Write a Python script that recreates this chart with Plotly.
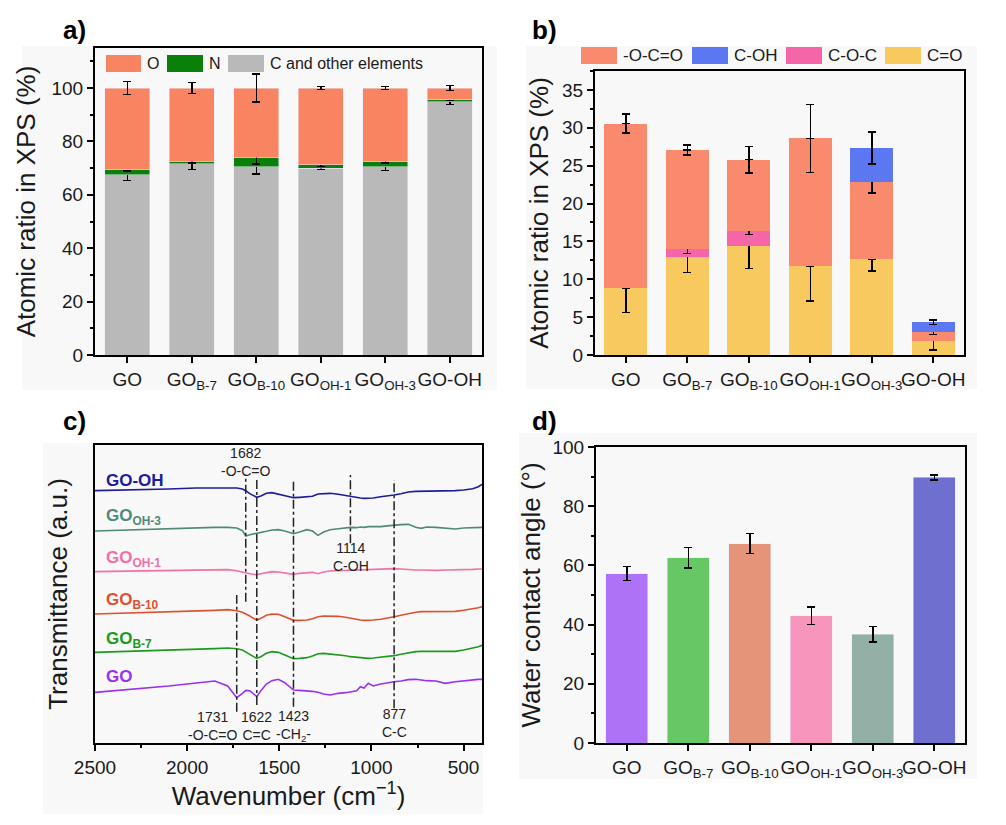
import plotly.graph_objects as go

W, H = 1006, 825
FONT = "Liberation Sans, Arial, sans-serif"

# ---------------- data ----------------
samples = ["GO", "GO<sub>B-7</sub>", "GO<sub>B-10</sub>", "GO<sub>OH-1</sub>", "GO<sub>OH-3</sub>", "GO-OH"]

# panel a: XPS elemental ratio (%)
a_C = [67.5, 71.6, 70.5, 70.0, 70.6, 94.9]
a_N = [1.9, 1.0, 3.6, 1.2, 1.9, 0.7]
a_O = [30.6, 27.4, 25.9, 28.8, 27.5, 4.4]
a_C_err = [2.2, 2.2, 2.65, 0.6, 1.5, 1.0]
a_N_err = [0.5, 0.6, 2.6, 0.5, 0.5, 0.3]
a_O_err = [2.5, 2.0, 5.3, 0.6, 0.6, 1.0]

# panel b: oxygen functional groups (%)
b_CO = [8.85, 12.9, 14.45, 11.7, 12.65, 1.9]
b_COC = [0, 1.05, 1.95, 0, 0, 0]
b_OCO = [21.7, 13.1, 9.4, 16.9, 10.2, 1.1]
b_COH = [0, 0, 0, 0, 4.5, 1.3]
b_CO_err = [3.25, 2.0, 3.05, 4.6, 1.55, 1.25]
b_COC_err = [None, 0.55, 0.5, None, None, None]
b_OCO_err = [1.25, 0.65, 1.75, 4.5, 1.45, 0.3]
b_COH_err = [None, None, None, None, 2.1, 0.3]

# panel d: water contact angle (deg)
d_wca = [57.2, 62.6, 67.4, 43.0, 36.7, 89.7]
d_err = [2.35, 3.4, 3.3, 2.9, 2.6, 0.8]
d_colors = ["#ad72f5", "#66c865", "#e59379", "#f795bd", "#92b0a5", "#6f6fd0"]

# panel c: FTIR spectra (offset, a.u.)
wn = [2500, 2300, 2100, 1950, 1850, 1780, 1731, 1700, 1682, 1660, 1640, 1622, 1600, 1570,
      1540, 1505, 1470, 1440, 1423, 1390, 1350, 1320, 1290, 1260, 1224, 1180, 1140, 1114,
      1080, 1060, 1040, 1017, 990, 950, 900, 877, 840, 800, 760, 730, 700, 650, 600, 545,
      500, 450, 420, 400]
t_GO_OH = [757, 759, 762, 765, 766, 766, 765, 762, 757, 748, 741, 737, 741, 749, 751, 747,
           742, 738, 736, 737, 738, 740, 747, 748, 749, 746, 742, 739, 736, 735, 734, 734,
           735, 739, 742, 744, 748, 753, 755, 755, 756, 757, 757, 757, 759, 763, 769, 776]
t_GO_OH3 = [636, 640, 644, 646, 647, 647, 645, 637, 621, 625, 627, 628, 631, 635, 639, 640,
            636, 632, 628, 633, 640, 636, 623, 633, 640, 643, 645, 647, 646, 648, 647, 649,
            649, 649, 652, 654, 655, 656, 647, 644, 648, 647, 645, 642, 645, 646, 647, 647]
t_GO_OH1 = [514, 516, 518, 519, 520, 520, 517, 513, 509, 508, 506, 505, 508, 512, 514, 513,
            510, 507, 506, 509, 512, 512, 508, 513, 516, 517, 517, 518, 518, 519, 519, 519,
            520, 521, 522, 523, 522, 520, 519, 519, 518, 518, 519, 519, 520, 521, 522, 522]
t_GO_B10 = [387, 390, 393, 395, 398, 400, 397, 392, 388, 381, 374, 369, 374, 383, 387, 386,
            379, 371, 368, 368, 369, 373, 379, 381, 381, 380, 377, 374, 372, 369, 368, 368,
            369, 371, 375, 379, 383, 388, 392, 394, 394, 395, 394, 395, 398, 402, 406, 409]
t_GO_B7 = [272, 275, 278, 280, 283, 285, 283, 279, 274, 266, 259, 254, 259, 269, 274, 272,
           264, 256, 253, 254, 256, 261, 268, 269, 267, 265, 262, 259, 257, 255, 254, 254,
           255, 257, 260, 262, 266, 271, 274, 275, 275, 275, 274, 275, 279, 284, 289, 293]
t_GO = [152, 161, 171, 180, 186, 171, 136, 149, 158, 157, 147, 139, 157, 177, 187, 191,
        181, 167, 159, 158, 157, 155, 152, 147, 144, 149, 151, 154, 157, 169, 165, 179,
        171, 177, 183, 184, 186, 190, 191, 189, 187, 186, 179, 184, 187, 189, 191, 191]

spectra = [
    ("GO-OH", t_GO_OH, "#1c1c9c", 789),
    ("GO<sub>OH-3</sub>", t_GO_OH3, "#4f8a78", 677),
    ("GO<sub>OH-1</sub>", t_GO_OH1, "#f46fa6", 553),
    ("GO<sub>B-10</sub>", t_GO_B10, "#e0502e", 427),
    ("GO<sub>B-7</sub>", t_GO_B7, "#1d9a1d", 309),
    ("GO", t_GO, "#9a30f0", 199),
]

peak_wn = [1731, 1682, 1622, 1423, 1114, 877]
peak_top = [444, 799, 794, 791, 804, 789]
peak_bot = [94, 424, 114, 109, 599, 104]
peak_labels = [
    (1860, 52, "1731<br>-O-C=O"),
    (1680, 844, "1682<br>-O-C=O"),
    (1626, 52, "1622<br>C=C"),
    (1423, 52, "1423<br>-CH<sub>2</sub>-"),
    (1110, 559, "1114<br>C-OH"),
    (876, 61, "877<br>C-C"),
]

# ---------------- figure ----------------
fig = go.Figure()
eb = lambda arr: dict(type="data", array=arr, color="black", thickness=1.5, width=4)

fig.add_trace(go.Bar(x=samples, y=a_C, marker_color="#b9b9b9", width=0.7, error_y=eb(a_C_err),
                     xaxis="x", yaxis="y", name="C and other elements", showlegend=False))
fig.add_trace(go.Bar(x=samples, y=a_N, marker_color="#0a800a", width=0.7, error_y=eb(a_N_err),
                     xaxis="x", yaxis="y", name="N", showlegend=False))
fig.add_trace(go.Bar(x=samples, y=a_O, marker_color="#f98462", width=0.7, error_y=eb(a_O_err),
                     xaxis="x", yaxis="y", name="O", showlegend=False))

for vals, errs, col, nm in [(b_CO, b_CO_err, "#f8c95e", "C=O"), (b_COC, b_COC_err, "#f566a8", "C-O-C"),
                            (b_OCO, b_OCO_err, "#f98a6d", "-O-C=O"), (b_COH, b_COH_err, "#5b78f2", "C-OH")]:
    fig.add_trace(go.Bar(x=samples, y=vals, marker_color=col, marker_line_width=0, width=0.7,
                         error_y=eb(errs), xaxis="x2", yaxis="y2", name=nm, showlegend=False))

for name, vals, col, ly in spectra:
    fig.add_trace(go.Scatter(x=wn, y=vals, mode="lines", line=dict(color=col, width=1.6),
                             xaxis="x3", yaxis="y3", name=name, showlegend=False))

fig.add_trace(go.Bar(x=samples, y=d_wca, marker_color=d_colors, width=0.68, error_y=eb(d_err),
                     xaxis="x4", yaxis="y4", name="WCA", showlegend=False))

ax = dict(showline=True, linecolor="black", linewidth=2, mirror=True, ticks="outside",
          ticklen=6, tickwidth=1.5, tickcolor="black", showgrid=False, zeroline=False,
          automargin=False, tickfont=dict(size=19, color="#1a1a1a", family=FONT))
xcat = dict(ax, tickangle=0)
minor = lambda d: dict(ticks="outside", ticklen=3, tickwidth=1.5, tickcolor="black", dtick=d, showgrid=False)
ytitle = lambda t, s: dict(text=t, font=dict(size=26, color="#1a1a1a", family=FONT), standoff=s)

layout = dict(
    width=W, height=H, margin=dict(l=0, r=0, t=0, b=0),
    paper_bgcolor="white", plot_bgcolor="rgba(0,0,0,0)", barmode="stack", bargap=0.3,
    font=dict(family=FONT, color="#1a1a1a"), showlegend=False,
    xaxis=dict(xcat, domain=[95 / W, 482 / W], anchor="y"),
    yaxis=dict(ax, domain=[1 - 355 / H, 1 - 48 / H], anchor="x", range=[0, 115], dtick=20,
               minor=minor(10), title=ytitle("Atomic ratio in XPS (%)", 8)),
    xaxis2=dict(xcat, domain=[595 / W, 964 / W], anchor="y2"),
    yaxis2=dict(ax, domain=[1 - 355 / H, 1 - 71 / H], anchor="x2", range=[0, 37.5], dtick=5,
                minor=minor(2.5), title=ytitle("Atomic ratio in XPS (%)", 6)),
    xaxis3=dict(ax, tickangle=0, domain=[95 / W, 482 / W], anchor="y3", range=[2500, 400], dtick=500,
                minor=minor(250), title=dict(text="Wavenumber (cm<sup>−1</sup>)",
                                             font=dict(size=26, color="#1a1a1a", family=FONT), standoff=8)),
    yaxis3=dict(ax, domain=[1 - 743 / H, 1 - 445 / H], anchor="x3", range=[0, 894],
                ticks="", showticklabels=False, title=ytitle("Transmittance (a.u.)", 18)),
    xaxis4=dict(xcat, domain=[596 / W, 965 / W], anchor="y4"),
    yaxis4=dict(ax, domain=[1 - 743 / H, 1 - 447 / H], anchor="x4", range=[0, 100], dtick=20,
                minor=minor(10), title=ytitle("Water contact angle (°)", 4)),
)

shapes = []
# light panel backgrounds
for x0, y0, x1, y1 in [(22, 46, 497, 390), (526, 46, 977, 389), (43, 443, 483, 814), (519, 433, 977, 779)]:
    shapes.append(dict(type="rect", xref="paper", yref="paper", x0=x0 / W, x1=x1 / W,
                       y0=1 - y1 / H, y1=1 - y0 / H, fillcolor="#f8f8f8", line_width=0, layer="below"))

annotations = []
# custom legends (panel a and b)
leg_a = [(106, 141, "#f98462", "O"), (167, 203, "#0a800a", "N"), (228, 264, "#b9b9b9", "C and other elements")]
for x0, x1, col, txt in leg_a:
    shapes.append(dict(type="rect", xref="paper", yref="paper", x0=x0 / W, x1=x1 / W,
                       y0=1 - 72 / H, y1=1 - 55 / H, fillcolor=col, line_width=0))
    annotations.append(dict(xref="paper", yref="paper", x=(x1 + 4) / W, y=1 - 63.5 / H, text=txt,
                            showarrow=False, xanchor="left", yanchor="middle", font=dict(size=16)))
leg_b = [(581, 617, "#f98a6d", "-O-C=O"), (692, 728, "#5b78f2", "C-OH"),
         (786, 822, "#f566a8", "C-O-C"), (885, 921, "#f8c95e", "C=O")]
for x0, x1, col, txt in leg_b:
    shapes.append(dict(type="rect", xref="paper", yref="paper", x0=x0 / W, x1=x1 / W,
                       y0=1 - 64 / H, y1=1 - 47 / H, fillcolor=col, line_width=0))
    annotations.append(dict(xref="paper", yref="paper", x=(x1 + 4) / W, y=1 - 55.5 / H, text=txt,
                            showarrow=False, xanchor="left", yanchor="middle", font=dict(size=17)))

# FTIR peak guide lines
for w_, t_, b_ in zip(peak_wn, peak_top, peak_bot):
    shapes.append(dict(type="line", xref="x3", yref="y3", x0=w_, x1=w_, y0=b_, y1=t_,
                       line=dict(color="#222222", width=1.5, dash="dashdot")))
for xw, yv, txt in peak_labels:
    annotations.append(dict(xref="x3", yref="y3", x=xw, y=yv, text=txt, showarrow=False,
                            xanchor="center", yanchor="middle", font=dict(size=14, color="#222222")))
# FTIR sample labels
for name, vals, col, ly in spectra:
    annotations.append(dict(xref="x3", yref="y3", x=2450, y=ly, text="<b>" + name + "</b>",
                            showarrow=False, xanchor="left", yanchor="middle",
                            font=dict(size=17, color=col)))

# panel letters
for txt, x, y in [("a)", 74, 30), ("b)", 544, 30), ("c)", 74, 421), ("d)", 544, 421)]:
    annotations.append(dict(xref="paper", yref="paper", x=x / W, y=1 - y / H, text="<b>" + txt + "</b>",
                            showarrow=False, xanchor="center", yanchor="middle",
                            font=dict(size=26, color="black")))

layout["shapes"] = shapes
layout["annotations"] = annotations
fig.update_layout(**layout)
fig.write_html("out.html")
